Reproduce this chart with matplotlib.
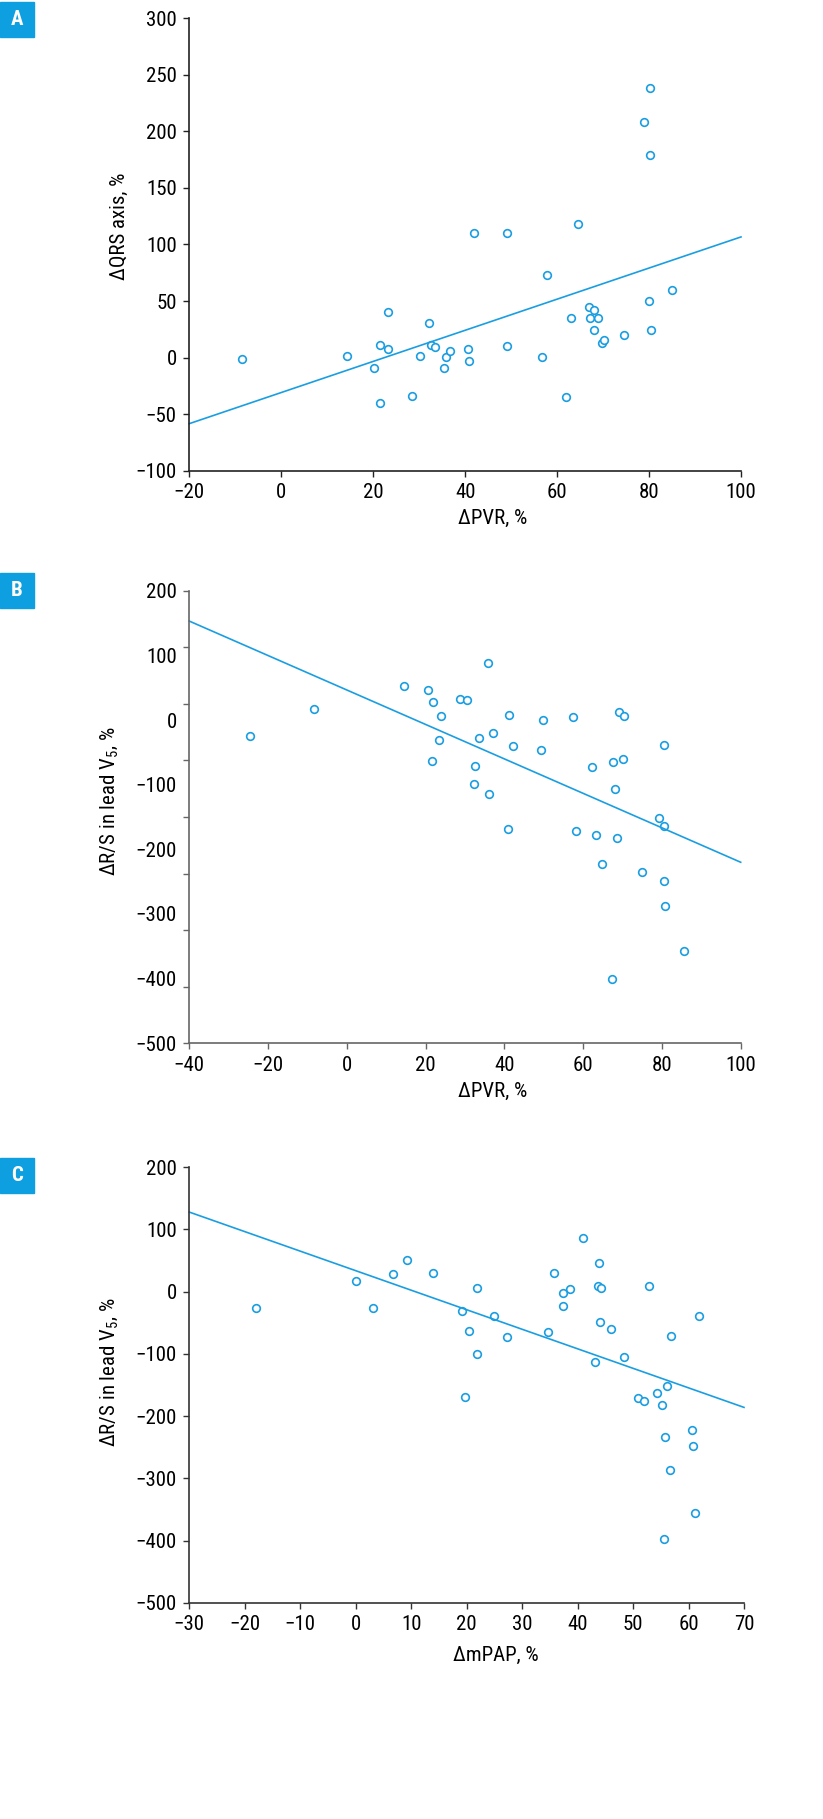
import matplotlib
matplotlib.use('Agg')
import matplotlib.pyplot as plt
import numpy as np
from matplotlib import font_manager
from matplotlib.patches import Rectangle

names = {f.name for f in font_manager.fontManager.ttflist}
fam = [f for f in ['Liberation Sans Narrow', 'Roboto Condensed'] if f in names] + ['DejaVu Sans']
plt.rcParams['font.family'] = fam
plt.rcParams['font.stretch'] = 'condensed'
plt.rcParams['mathtext.fontset'] = 'custom'
plt.rcParams['mathtext.rm'] = fam[0] + ':stretch=condensed'
plt.rcParams['mathtext.it'] = fam[0] + ':stretch=condensed'

BLUE = '#1a9ee2'

# panel A: dPVR vs dQRS axis
a_x = [-8.6, 14.3, 20.1, 21.4, 21.5, 23.3, 23.3, 28.5, 30.2, 32.1, 32.5, 33.4, 35.4,
       35.9, 36.7, 40.6, 40.8, 41.9, 49.0, 49.2, 56.8, 57.9, 61.9, 63.1, 64.5, 66.9,
       67.1, 68.0, 68.1, 69.0, 69.8, 70.1, 74.5, 79.0, 79.9, 80.1, 80.1, 80.4, 84.9]
a_y = [-1.2, 1.8, -9.2, 10.9, -40.1, 40.4, 7.3, -33.8, 1.2, 31.0, 11.5, 9.1, -8.8,
       0.9, 6.2, 7.6, -3.0, 110, 10.3, 110, 0.5, 73.1, -34.5, 35.4, 118, 44.5,
       35.4, 42.5, 24.4, 34.8, 12.9, 15.9, 19.7, 208.2, 50.4, 238.6, 179.3, 24.8, 60.2]
a_fit_x = [-20, 100]
a_fit_y = [-58.4, 106.7]

# panel B: dPVR vs dR/S V5
b_x = [-24.7, -8.4, 14.5, 20.6, 21.8, 21.6, 23.8, 23.5, 28.7, 30.6, 32.6, 32.4, 33.5,
       35.8, 36.1, 37.1, 40.9, 41.1, 42.2, 49.7, 49.4, 57.4, 58.2, 62.3, 63.2, 64.9,
       67.3, 67.6, 68.1, 68.5, 69.2, 70.2, 70.4, 74.9, 79.3, 80.5, 80.6, 80.6, 80.9, 85.5]
b_y = [-24.3, 17.0, 53.1, 46.9, 28.3, -63.9, 6.6, -30.5, 33.0, 30.5, -71.6, -99, -27.3,
       87.7, -114.4, -20.6, -168.6, 7.7, -39.7, -0.5, -46.9, 5.1, -171.2, -72.7, -177.4, -222.2,
       -400.5, -65.5, -106.2, -182.5, 11.9, -60.3, 5.7, -235.1, -151.1, -248.5, -39.2, -164, -287.2, -357.7]
b_fit_x = [-40, 100]
b_fit_y = [153, -220]

# panel C: dmPAP vs dR/S V5
c_x = [-18.0, 0.0, 3.1, 6.7, 9.3, 13.9, 19.2, 19.7, 20.5, 21.9, 21.9, 25.0, 27.3, 34.7,
       35.7, 37.3, 37.3, 38.6, 40.9, 43.2, 43.6, 43.9, 44.1, 44.2, 46.0, 48.3, 50.9, 52.0,
       52.8, 54.3, 55.2, 55.5, 55.7, 56.1, 56.7, 56.8, 60.6, 60.8, 61.1, 61.8]
c_y = [-25.7, 16.5, -26.8, 27.8, 51.3, 30.5, -30.5, -168.5, -63.2, 5.8, -99.5, -39.6, -73.3, -64.2,
       29.4, -1.6, -23.6, 3.7, 87.1, -113.4, 9.0, 45.9, -48.1, 5.8, -59.4, -105.4, -170.1, -176,
       9.6, -162.7, -182.4, -396.9, -234.2, -151.4, -286.2, -71.7, -223, -247.7, -355.7, -39.1]
c_fit_x = [-30, 70]
c_fit_y = [128, -186]

W, H = 823, 1819
fig = plt.figure(figsize=(W / 100, H / 100), dpi=100)


def make_axes(l, r, t, b):
    return fig.add_axes([l / W, 1 - b / H, (r - l) / W, (b - t) / H])


def style(ax, xlabel, ylabel, xlab_pos, ylab_pos, spine_col):
    for s in ['top', 'right']:
        ax.spines[s].set_visible(False)
    for s in ['left', 'bottom']:
        ax.spines[s].set_color(spine_col)
        ax.spines[s].set_linewidth(1.2)
    ax.tick_params(which='major', direction='out', length=4, width=1, color=spine_col,
                   labelsize=15, pad=5)
    ax.set_xlabel(xlabel, fontsize=15)
    ax.set_ylabel(ylabel, fontsize=15)
    ax.xaxis.set_label_coords(*xlab_pos)
    ax.yaxis.set_label_coords(*ylab_pos)


def scatter(ax, x, y, fx, fy):
    ax.plot(x, y, 'o', ms=5.5, mfc='white', mec=BLUE, mew=1.2, ls='none', clip_on=False)
    ax.plot(fx, fy, color=BLUE, lw=1.2, clip_on=False)


def panel_box(letter, top):
    fig.patches.append(Rectangle((0, 1 - (top + 35) / H), 34 / W, 35 / H,
                                 transform=fig.transFigure, color='#0e9fe0', zorder=5))
    fig.text(17 / W, 1 - (top + 17.5) / H, letter, color='white', fontsize=15,
             fontweight='bold', ha='center', va='center', zorder=6)


# A
axA = make_axes(189.3, 741, 18.3, 470.7)
scatter(axA, a_x, a_y, a_fit_x, a_fit_y)
axA.set_xlim(-20, 100)
axA.set_ylim(-100, 300)
axA.set_xticks(np.arange(-20, 101, 20))
axA.set_yticks(np.arange(-100, 301, 50))
style(axA, 'ΔPVR, %', 'ΔQRS axis, %', (0.55, -0.085), (-0.11, 0.54), '#222222')
panel_box('A', 2)

# B
axB = make_axes(189.3, 740.7, 590.7, 1043.3)
scatter(axB, b_x, b_y, b_fit_x, b_fit_y)
axB.set_xlim(-40, 100)
axB.set_ylim(-500, 200)
axB.set_xticks(np.arange(-40, 101, 20))
# tick marks and labels are not aligned in the original figure
axB.yaxis.remove_overlapping_locs = False
axB.set_yticks(np.linspace(-500, 200, 9))
axB.set_yticklabels([])
axB.set_yticks(np.arange(-500, 201, 100), minor=True)
axB.set_yticklabels([f'{v:d}'.replace('-', '\u2212') for v in np.arange(-500, 201, 100)], minor=True)
style(axB, 'ΔPVR, %', r'ΔR/S in lead V$_5$, %', (0.55, -0.085), (-0.125, 0.536), '#666666')
axB.tick_params(which='minor', length=0, labelsize=15, pad=9)
panel_box('B', 573)

# C
axC = make_axes(189.3, 744, 1167.3, 1602.7)
scatter(axC, c_x, c_y, c_fit_x, c_fit_y)
axC.set_xlim(-30, 70)
axC.set_ylim(-500, 200)
axC.set_xticks(np.arange(-30, 71, 10))
axC.set_yticks(np.arange(-500, 201, 100))
style(axC, 'ΔmPAP, %', r'ΔR/S in lead V$_5$, %', (0.552, -0.1), (-0.125, 0.53), '#333333')
panel_box('C', 1158)

fig.savefig('out.png', dpi=100)
